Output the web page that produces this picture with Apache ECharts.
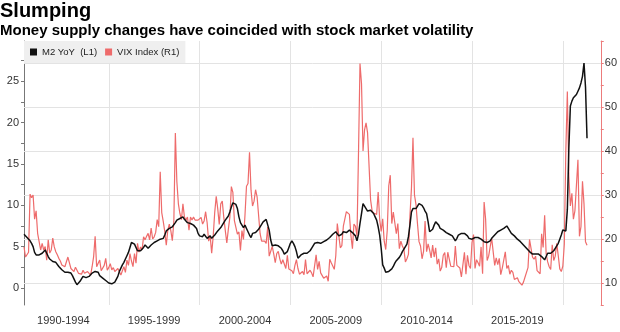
<!DOCTYPE html>
<html><head><meta charset="utf-8">
<script src="https://cdn.jsdelivr.net/npm/echarts@6/dist/echarts.min.js"></script>
<style>html,body{margin:0;padding:0;background:#fff}#c{width:620px;height:332px}</style>
</head><body><div id="c"></div>
<script>
// First observation: end of April 1990, monthly thereafter
const startYear = 1990, startMonth = 4;

// M2 YoY % (left axis)
const m2YoY = [
  6.5, 6.3, 6.1, 5.9, 5.7, 5.4, 5.0, 4.3, 4.0,
  3.8, 4.0, 4.1, 4.2, 4.4, 4.6, 4.2, 3.8, 3.5, 3.3, 3.2, 3.2,
  3.1, 2.9, 2.6, 2.4, 2.2, 2.1, 1.9, 1.8, 1.9, 2.0, 1.8, 1.5,
  1.1, 0.7, 0.4, 0.6, 0.8, 1.1, 1.4, 1.3, 1.25, 1.2, 1.4, 1.6,
  1.8, 1.9, 2.0, 2.2, 1.9, 1.5, 1.3, 1.2, 1.1, 0.9, 0.8, 0.6,
  0.5, 0.5, 0.5, 0.7, 0.9, 1.4, 2.0, 2.4, 2.8, 3.1, 3.5, 3.9,
  4.3, 4.9, 5.5, 5.5, 5.3, 4.9, 4.5, 4.4, 4.5, 4.6, 4.9, 5.2,
  5.0, 4.8, 5.0, 5.2, 5.4, 5.5, 5.6, 5.7, 5.8, 5.9, 5.9, 6.0,
  6.4, 6.9, 7.1, 7.2, 7.3, 7.4, 7.6, 7.9, 8.2, 8.3, 8.4, 8.6,
  8.6, 8.3, 8.1, 7.9, 7.8, 7.8, 7.8, 7.6, 7.4, 7.2, 6.6, 6.3,
  6.1, 6.2, 6.5, 6.6, 6.0, 6.0, 6.3, 6.0, 6.1, 6.4, 6.6, 6.9,
  7.0, 7.3, 7.6, 7.9, 8.2, 8.4, 8.7, 9.2, 9.8, 10.3, 10.4, 10.1,
  9.6, 8.6, 7.9, 7.6, 7.3, 7.6, 7.2, 7.3, 6.4, 6.1, 6.6, 6.7,
  6.7, 6.8, 7.1, 7.4, 7.6, 8.0, 8.2, 8.3, 8.3, 7.0, 5.8, 5.1,
  5.2, 5.2, 5.1, 5.1, 5.0, 4.8, 4.5, 4.1, 3.9, 4.4, 4.9, 5.4,
  5.7, 5.4, 5.0, 4.4, 3.6, 3.7, 4.0, 4.2, 4.2, 4.2, 4.2, 4.3,
  4.5, 4.8, 5.1, 5.4, 5.6, 5.5, 5.4, 5.4, 5.5, 5.6, 5.7, 5.8,
  5.9, 6.1, 6.3, 6.5, 6.6, 6.8, 6.7, 6.3, 6.1, 6.5, 6.8, 6.6,
  6.7, 6.9, 7.0, 6.8, 6.7, 6.5, 6.3, 5.7, 6.5, 7.8, 9.0, 10.2,
  10.0, 9.6, 9.3, 9.3, 9.4, 9.3, 9.0, 8.6, 8.2, 7.4, 6.4, 4.8,
  2.8, 2.4, 1.9, 1.8, 2.0, 2.1, 2.3, 2.6, 3.0, 3.3, 3.5, 3.7,
  4.0, 4.4, 4.7, 5.0, 5.3, 6.2, 7.6, 9.2, 9.6, 9.4, 9.6, 9.9,
  10.2, 10.4, 10.0, 9.7, 9.3, 9.0, 8.0, 6.8, 6.9, 7.1, 7.6, 8.0,
  8.2, 7.6, 7.2, 7.1, 7.0, 6.9, 6.7, 6.6, 6.5, 6.4, 6.3, 6.1,
  5.7, 6.0, 6.4, 6.6, 6.6, 6.6, 6.6, 6.5, 6.3, 6.0, 5.8, 5.9,
  6.0, 6.1, 6.2, 6.1, 6.0, 5.9, 5.8, 5.6, 5.4, 5.5, 5.6, 5.7,
  6.0, 6.2, 6.4, 6.6, 6.8, 6.9, 7.0, 7.1, 7.2, 7.4, 7.5, 7.6,
  6.9, 6.6, 6.5, 6.3, 6.1, 5.9, 5.8, 5.6, 5.4, 5.2, 5.0, 4.8,
  4.6, 4.4, 4.2, 4.1, 4.0, 4.1, 4.2, 4.1, 4.0, 3.8, 3.6, 3.4,
  3.8, 4.2, 4.2, 4.2, 4.2, 4.5, 4.8, 5.1, 5.4, 5.9, 6.4, 7.0,
  6.8, 6.9, 9.5, 17.0, 22.0, 22.6, 23.0, 23.1, 23.4, 23.8, 24.2, 24.8,
  25.6, 27.2, 24.3, 18.1
];

// VIX Index monthly (right axis)
const vixIndex = [
  18.2, 15.9, 15.6, 17.0, 30.2, 29.4, 30.0, 24.5, 26.4,
  21.3, 21.7, 17.5, 19.0, 17.5, 18.3, 15.2, 19.8, 16.8, 17.5, 20.2, 18.2,
  17.1, 16.4, 15.6, 15.0, 14.1, 14.5, 13.7, 13.9, 15.9, 16.2, 13.3, 12.9,
  12.6, 13.6, 13.3, 12.2, 12.6, 12.0, 12.9, 12.2, 12.0, 12.6, 12.9, 11.8,
  13.7, 16.0, 20.6, 13.7, 14.5, 15.2, 12.8, 12.6, 14.0, 15.6, 12.9, 13.5,
  14.4, 13.0, 13.5, 12.6, 12.9, 13.3, 12.6, 11.8, 12.8, 13.7, 12.4, 15.2,
  14.0, 16.7, 15.0, 13.7, 16.7, 14.5, 19.0, 17.0, 18.2, 17.5, 20.5, 19.8,
  20.6, 21.3, 19.8, 22.5, 20.0, 20.5, 21.5, 24.4, 22.8, 35.3, 26.0, 24.0,
  21.7, 18.6, 22.0, 23.4, 21.9, 19.6, 24.0, 44.1, 33.0, 28.0, 25.8, 24.4,
  28.0, 25.0, 24.3, 25.0, 22.0, 25.0, 24.3, 25.0, 24.3, 24.3, 24.3, 24.6,
  24.9, 23.4, 24.1, 26.2, 23.7, 19.5, 20.7, 16.8, 20.6, 26.0, 29.7, 26.9,
  23.3, 28.0, 28.6, 24.9, 21.9, 19.1, 22.2, 24.9, 31.9, 30.6, 24.2, 23.8,
  21.1, 21.6, 17.4, 21.9, 19.9, 25.4, 32.0, 32.6, 39.7, 31.1, 27.5, 28.6,
  31.2, 29.6, 29.2, 21.2, 19.5, 19.5, 19.5, 19.0, 22.7, 16.1, 16.3, 18.3,
  16.6, 14.6, 16.7, 17.2, 15.5, 14.3, 15.3, 15.3, 13.3, 16.3, 13.2, 13.3,
  12.8, 12.1, 14.0, 15.3, 13.3, 12.0, 11.6, 12.6, 11.9, 15.3, 12.1, 12.1,
  12.9, 12.3, 11.4, 11.6, 16.4, 13.1, 14.9, 12.3, 12.0, 11.1, 10.9, 11.6,
  10.4, 15.4, 14.6, 14.2, 13.1, 16.2, 23.5, 23.4, 18.0, 18.5, 22.9, 22.5,
  26.2, 26.5, 25.6, 20.8, 17.8, 23.4, 22.9, 20.7, 39.4, 59.9, 55.3, 40.0,
  44.8, 46.4, 44.1, 36.5, 28.9, 26.4, 25.9, 26.0, 25.6, 30.7, 24.5, 21.7,
  24.6, 19.5, 17.6, 22.0, 32.1, 34.5, 23.5, 26.1, 23.7, 21.2, 23.5, 17.8,
  19.5, 18.4, 17.7, 14.8, 15.5, 16.5, 25.3, 31.6, 43.0, 30.0, 27.8, 23.4,
  19.4, 18.4, 15.5, 17.2, 24.1, 17.1, 18.9, 17.5, 15.7, 18.6, 15.9, 18.0,
  14.3, 15.5, 12.7, 13.5, 16.3, 16.9, 13.5, 17.0, 16.6, 13.8, 13.7, 13.7,
  18.4, 14.0, 13.9, 13.4, 11.4, 11.6, 17.0, 12.0, 16.3, 14.0, 13.3, 19.2,
  21.0, 13.3, 15.3, 14.6, 13.8, 18.2, 12.1, 28.4, 24.5, 15.1, 16.1, 18.2,
  20.2, 20.6, 14.0, 15.7, 14.2, 15.6, 11.9, 13.4, 13.3, 17.1, 13.3, 14.0,
  12.0, 12.9, 12.4, 10.8, 10.4, 11.2, 10.3, 10.6, 9.5, 10.2, 11.3, 11.0,
  13.5, 19.9, 20.0, 15.9, 15.4, 16.1, 12.8, 12.9, 12.1, 21.2, 18.1, 25.4,
  16.6, 14.8, 13.7, 13.1, 18.7, 15.1, 16.1, 19.0, 16.2, 13.2, 12.6, 13.8,
  18.8, 40.1, 53.5, 34.2, 27.5, 30.4, 24.5, 26.4, 26.4, 38.0, 20.6, 22.8,
  33.1, 28.0, 19.4, 18.6
];

// Axis text
const periodStarts = [1990, 1995, 2000, 2005, 2010, 2015];
const periodLabels = ['1990-1994', '1995-1999', '2000-2004', '2005-2009', '2010-2014', '2015-2019'];
const gridYears = [1995, 2000, 2005, 2010, 2015, 2020];
const leftLabels = [0, 5, 10, 15, 20, 25];
const leftTicks = [0, 2.5, 5, 7.5, 10, 12.5, 15, 17.5, 20, 22.5, 25, 27.5];
const rightLabels = [10, 20, 30, 40, 50, 60];
const seriesNames = ['M2 YoY  (L1)', 'VIX Index (R1)'];

function monthEnd(i) {
  const m = startMonth - 1 + i;
  return startYear + Math.floor(m / 12) + ((m % 12) + 1) / 12;
}
const m2Data = m2YoY.map((v, i) => [monthEnd(i), v]);
const vixData = vixIndex.map((v, i) => [monthEnd(i), v]);

const FONT = 'Liberation Sans';
const chart = echarts.init(document.getElementById('c'), null, {renderer: 'canvas'});
chart.setOption({
  animation: false,
  backgroundColor: '#fff',
  title: [
    {text: 'Slumping', left: 0, top: 1, padding: 0,
     textStyle: {fontFamily: FONT, fontWeight: 'bold', fontSize: 20, color: '#000'}},
    {text: 'Money supply changes have coincided with stock market volatility', left: 0, top: 23, padding: 0,
     textStyle: {fontFamily: FONT, fontWeight: 'bold', fontSize: 15, color: '#000'}}
  ],
  legend: {
    left: 24, top: 41, orient: 'horizontal',
    data: seriesNames, selectedMode: false,
    backgroundColor: '#efefef', padding: [6, 6, 6, 6],
    icon: 'rect', itemWidth: 7, itemHeight: 7, itemGap: 8,
    textStyle: {fontFamily: FONT, fontSize: 9.5, color: '#222'}
  },
  grid: {left: 24, right: 19, top: 41, bottom: 27, containLabel: false},
  xAxis: {
    type: 'value', min: 1990.333, max: 2022.09,
    axisLine: {show: false}, axisTick: {show: false}, splitLine: {show: false},
    axisLabel: {
      customValues: periodStarts.map(y => y + 2.5),
      formatter: v => periodLabels[periodStarts.indexOf(Math.round(v - 2.5))] || '',
      margin: 10, fontFamily: FONT, fontSize: 11, color: '#333'
    }
  },
  yAxis: [
    {
      type: 'value', position: 'left', min: -2.06, max: 29.87,
      axisLine: {show: true, lineStyle: {color: '#777', width: 1}},
      axisTick: {show: true, length: 3, customValues: leftTicks, lineStyle: {color: '#777'}},
      axisLabel: {customValues: leftLabels, margin: 5, fontFamily: FONT, fontSize: 11, color: '#333'},
      splitLine: {show: false}
    },
    {
      type: 'value', position: 'right', min: 5, max: 65, interval: 5,
      axisLine: {show: true, lineStyle: {color: '#ec7b7b', width: 1}},
      axisTick: {show: true, length: 3, lineStyle: {color: '#ec7b7b'}},
      axisLabel: {customValues: rightLabels, margin: 4, fontFamily: FONT, fontSize: 11, color: '#333'},
      splitLine: {show: false}
    }
  ],
  series: [
    {
      name: seriesNames[1], type: 'line', yAxisIndex: 1, data: vixData,
      showSymbol: false, symbol: 'none', z: 2,
      lineStyle: {color: '#ee6b6b', width: 1.2}, itemStyle: {color: '#ee6b6b'},
      emphasis: {disabled: true},
      markLine: {
        silent: true, symbol: 'none', z: 1, animation: false,
        label: {show: false},
        lineStyle: {color: '#e3e3e3', width: 1, type: 'solid'},
        emphasis: {disabled: true},
        data: rightLabels.map(v => ({yAxis: v})).concat(gridYears.map(v => ({xAxis: v})))
      }
    },
    {
      name: seriesNames[0], type: 'line', yAxisIndex: 0, data: m2Data,
      showSymbol: false, symbol: 'none', z: 3,
      lineStyle: {color: '#111', width: 1.5}, itemStyle: {color: '#111'},
      emphasis: {disabled: true}
    }
  ]
});
</script>
</body></html>
